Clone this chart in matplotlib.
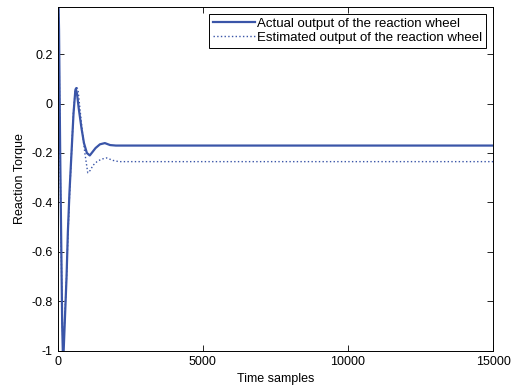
import matplotlib.pyplot as plt

plt.rcParams['font.family'] = ['Liberation Sans', 'DejaVu Sans']

# reaction wheel torque, actual vs estimated (time samples)
t_actual = [0, 40, 80, 120, 150, 175, 200, 240, 300, 345, 400, 470, 540, 600, 620,
            660, 720, 815, 900, 1000, 1100, 1200, 1300, 1450, 1620, 1800, 2000, 15000]
y_actual = [0.55, 0.3, -0.2, -0.6, -0.9, -1.02, -1.0, -0.88, -0.7, -0.52, -0.36, -0.2,
            -0.04, 0.05, 0.06, 0.04, -0.02, -0.1, -0.16, -0.2, -0.21, -0.195, -0.18,
            -0.165, -0.16, -0.168, -0.17, -0.17]

t_est = [0, 40, 80, 120, 150, 175, 200, 240, 300, 345, 400, 470, 540, 600, 650,
         700, 760, 850, 930, 1030, 1120, 1210, 1350, 1500, 1680, 1900, 2100, 15000]
y_est = [0.5, 0.25, -0.25, -0.62, -0.88, -0.97, -0.96, -0.86, -0.7, -0.54, -0.38, -0.2,
         -0.03, 0.05, 0.07, 0.05, -0.02, -0.12, -0.2, -0.28, -0.27, -0.25, -0.235,
         -0.225, -0.22, -0.23, -0.235, -0.235]

line_color = '#3a55a8'

fig = plt.figure(figsize=(5.12, 3.92), dpi=100)
ax = fig.add_axes([0.113, 0.105, 0.850, 0.877])

ax.plot(t_actual, y_actual, color=line_color, lw=1.6, label='Actual output of the reaction wheel')
ax.plot(t_est, y_est, color=line_color, lw=1.0, ls=':', label='Estimated output of the reaction wheel')

ax.set_xlim(0, 15000)
ax.set_ylim(-1, 0.39)
ax.set_xticks([0, 5000, 10000, 15000])
ax.set_yticks([-1, -0.8, -0.6, -0.4, -0.2, 0, 0.2])
ax.set_yticklabels(['-1', '-0.8', '-0.6', '-0.4', '-0.2', '0', '0.2'])
ax.tick_params(direction='in', top=True, right=True, labelsize=9, length=4, width=0.6)
for s in ax.spines.values():
    s.set_linewidth(0.7)

ax.set_xlabel('Time samples', fontsize=9, labelpad=4)
ax.set_ylabel('Reaction Torque', fontsize=9, labelpad=4)

leg = ax.legend(loc='upper right', fontsize=9.5, fancybox=False, framealpha=1,
                edgecolor='black', handlelength=3.2, handletextpad=0.2,
                borderpad=0.3, labelspacing=0.15, borderaxespad=0.5)
leg.get_frame().set_linewidth(0.7)

fig.savefig('out.png', dpi=100)
